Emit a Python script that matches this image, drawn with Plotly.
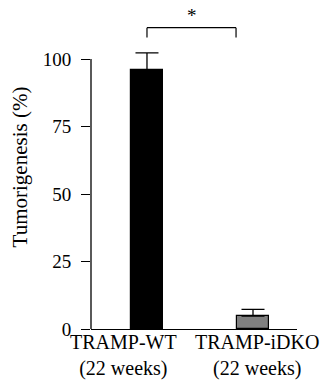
import plotly.graph_objects as go

categories = ["TRAMP-WT<br>(22 weeks)", "TRAMP-iDKO<br>(22 weeks)"]
values = [96, 4.8]
errors = [6.3, 2.5]
colors = ["#000000", "#808080"]
y_ticks = [0, 25, 50, 75, 100]
sig_label = "*"
label_shift = [-23.5, 4]

xpos = list(range(len(categories)))
FONT = "Liberation Serif, serif"

fig = go.Figure()
fig.add_trace(go.Bar(
    x=xpos, y=values, width=0.308,
    marker=dict(color=colors, line=dict(color="#000000", width=1.2)),
    error_y=dict(type="data", array=errors, symmetric=False, arrayminus=[0, 0],
                 color="#000000", thickness=1.3, width=11.5),
    cliponaxis=False, showlegend=False,
))

# y-axis line from 0 to 100
fig.add_shape(type="line", xref="paper", yref="y", x0=0, x1=0, y0=0, y1=100,
              line=dict(color="#000000", width=1.3))
# significance bracket
fig.add_shape(type="line", xref="x", yref="y", x0=0, x1=0, y0=108, y1=111.6,
              line=dict(color="#000000", width=1.2))
fig.add_shape(type="line", xref="x", yref="y", x0=0, x1=0.84, y0=111.6, y1=111.6,
              line=dict(color="#000000", width=1.2))
fig.add_shape(type="line", xref="x", yref="y", x0=0.84, x1=0.84, y0=108, y1=111.6,
              line=dict(color="#000000", width=1.2))
fig.add_annotation(x=0.42, y=111.6, xref="x", yref="y", text=sig_label, showarrow=False,
                   yanchor="bottom", yshift=0, font=dict(family=FONT, size=19, color="#000000"))

# category labels
for i, lab in enumerate(categories):
    fig.add_annotation(x=xpos[i], y=0, xref="x", yref="y", text=lab, showarrow=False,
                       yanchor="top", xanchor="center", yshift=0, xshift=label_shift[i],
                       font=dict(family=FONT, size=20, color="#000000"))

fig.update_layout(
    width=326, height=385,
    margin=dict(l=91, r=29, t=5, b=56),
    paper_bgcolor="white", plot_bgcolor="white",
    font=dict(family=FONT, size=19, color="#000000"),
    bargap=0,
    xaxis=dict(range=[-0.528, 1.415], tickvals=xpos, showticklabels=False,
               automargin=False,
               showline=True, linecolor="#000000", linewidth=1.3,
               ticks="", showgrid=False, zeroline=False),
    yaxis=dict(range=[0, 120], tickvals=y_ticks, ticks="outside", ticklen=9,
               tickwidth=1.3, tickcolor="#000000", showline=False, showgrid=False,
               zeroline=False, ticklabelstandoff=6, automargin=False,
               tickfont=dict(family=FONT, size=19),
               title=dict(text="Tumorigenesis (%)", font=dict(family=FONT, size=21), standoff=9)),
)

fig.write_html("out.html", config={"displayModeBar": False},
               post_script="document.body.style.margin='0';document.body.style.padding='0';")
